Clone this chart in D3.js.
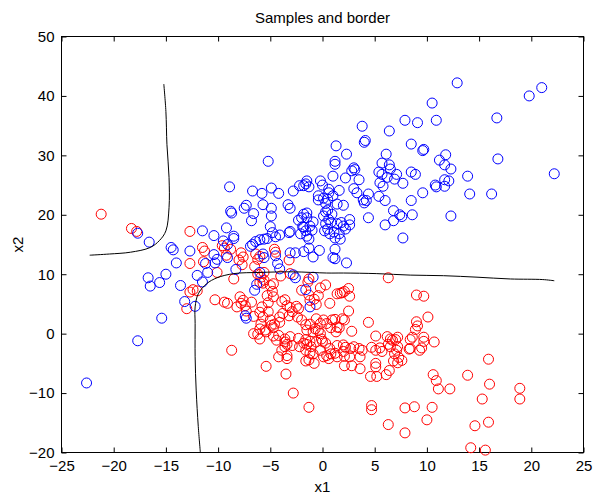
<!DOCTYPE html>
<html>
<head>
<meta charset="utf-8">
<script src="https://cdn.jsdelivr.net/npm/d3@7"></script>
<style>
  body { margin: 0; background: #fff; }
  svg { display: block; font-family: "Liberation Sans", Arial, Helvetica, sans-serif; }
</style>
</head>
<body>
<svg id="chart" width="598" height="496"></svg>
<script>
// samples of class 2 (blue) and class 1 (red)
const blueSamples = [
  [-22.6,-8.3],[-17.7,-1.2],[-15.4,2.6],[-16.7,9.4],[-16.5,8.0],[-15.6,8.6],[-15.0,10.0],[-14.0,11.9],[-13.6,8.1],
  [-13.2,5.4],[-12.2,4.6],[-12.0,9.8],[-11.2,11.8],[-11.0,10.3],[-11.5,8.7],
  [-16.6,15.4],[-17.7,16.9],[-14.5,14.5],[-14.3,14.1],[-12.7,13.9],[-11.5,17.3],[-10.4,16.5],
  [-10.4,13.3],[-10.1,12.5],[-10.3,11.9],[-9.5,15.6],[-9.1,15.0],
  [-5.2,29.0],[-8.9,24.7],[-6.7,24.0],[-5.8,23.6],[-4.9,24.5],[-4.2,23.6],[-2.8,24.0],[-2.2,24.9],
  [-7.3,21.6],[-7.5,21.1],[-8.8,20.6],[-8.7,20.3],[-5.7,21.7],[-4.9,21.1],[-3.3,21.7],[-3.1,21.1],
  [-6.6,20.2],[-4.9,19.8],[-6.8,19.0],[-5.0,18.0],[-9.2,17.8],[-8.5,16.4],[-8.5,16.0],
  [-2.0,19.5],[-2.3,19.1],[-1.9,18.0],[-3.1,17.2],[-4.8,17.0],[-4.5,16.3],[-4.1,16.6],[-3.2,17.0],
  [-5.3,16.0],[-6.0,15.8],[-6.4,15.5],[-6.7,15.0],[-6.9,14.7],[-5.6,15.9],
  [-3.1,13.6],[-2.6,13.6],[-9.1,12.8],[-5.7,13.4],[-5.6,12.8],[-4.5,13.1],[-4.3,11.8],[-8.3,10.8],
  [-4.1,10.9],[-2.8,9.9],[-2.6,9.4],[-6.3,8.3],[-6.5,7.3],[-6.0,10.3],[-7.4,3.0],[-7.3,2.6],
  [-1.5,25.7],[-0.2,25.7],[0.0,25.0],[-1.6,25.2],[-1.3,24.7],[-1.8,24.9],[1.0,26.5],[0.6,24.3],[1.6,24.1],
  [-0.4,23.2],[0.1,22.8],[0.6,23.7],[1.0,23.2],[0.5,22.6],[1.4,21.8],[0.3,21.9],[-0.4,22.5],
  [-1.8,20.1],[-1.5,20.3],[-1.5,19.5],[-0.9,18.8],[-1.2,18.1],[-1.0,17.4],[-1.8,17.9],[-1.6,17.3],[-2.1,16.8],
  [-1.5,16.4],[-1.3,15.9],
  [0.3,20.5],[0.1,19.8],[0.8,18.7],[0.9,20.1],[0.5,20.8],[0.6,19.2],[0.3,18.5],[1.4,18.5],[0.5,17.6],[0.2,17.3],
  [0.7,16.8],[1.1,17.1],[1.2,16.1],[1.6,16.8],
  [-1.3,14.4],[-0.3,14.0],[-0.9,12.9],[1.0,12.8],[-1.8,13.8],[1.2,14.2],[1.2,12.6],[2.3,11.9],
  [-0.9,9.5],[-1.6,7.4],[-1.2,4.5],
  [1.2,29.0],[1.2,28.5],[3.0,27.9],[3.1,27.6],[2.8,27.4],[5.7,28.7],[6.4,28.4],[6.5,27.7],[5.4,27.2],[5.7,26.8],
  [7.1,26.8],[6.2,26.3],[6.9,26.0],[7.7,25.3],[8.5,27.2],[8.9,26.8],
  [2.2,26.2],[3.5,25.9],[5.5,25.4],[5.8,24.8],[3.0,24.4],[3.3,23.7],[4.4,23.5],[4.2,22.4],[4.0,22.0],[3.9,22.5],
  [5.4,23.1],[6.0,22.4],[8.5,22.4],[2.0,21.6],
  [6.8,20.7],[7.4,20.0],[7.6,19.7],[8.6,20.0],[4.4,19.5],[6.0,18.3],[6.8,19.0],[2.6,19.2],[2.6,18.3],[1.8,18.7],
  [2.0,18.1],[2.2,17.6],[1.7,15.9],[7.7,16.1],[9.6,23.7],
  [12.9,42.2],[19.8,40.0],[21.0,41.4],[10.5,38.8],[16.7,36.3],[7.9,35.9],[9.1,35.5],[10.9,35.9],[3.8,34.9],
  [6.4,34.1],[4.0,32.2],[4.1,32.5],[8.5,31.9],[9.6,30.8],[9.7,31.0],[1.3,31.6],[2.3,30.2],[6.1,30.2],[16.8,29.4],
  [22.2,26.9],[11.8,30.1],[11.2,29.2],[11.7,28.4],[12.3,27.7],[13.9,26.5],[10.8,25.0],[10.9,24.7],[11.7,24.8],
  [11.7,25.9],[12.1,25.7],[14.1,23.5],[16.2,23.5],[12.3,19.8]
];

const redSamples = [
  [-21.2,20.1],[-18.3,17.7],[-17.8,17.2],[-12.7,17.2],[-11.5,14.5],[-11.3,13.9],[-12.7,11.8],[-11.4,12.1],[-10.1,10.3],
  [-12.7,7.0],[-12.4,7.4],[-12.0,7.2],[-13.0,4.2],[-10.3,5.7],[-9.4,5.3],[-9.1,5.1],[-8.7,-2.8],
  [-9.6,14.8],[-9.4,14.4],[-8.8,14.2],[-9.2,13.2],[-7.8,13.6],[-7.6,12.9],[-8.0,12.4],[-7.7,11.6],[-6.4,13.4],
  [-6.2,12.5],[-6.0,13.0],[-6.5,11.3],[-5.6,10.3],[-4.6,14.2],[-4.5,13.7],[-3.2,12.4],[-3.1,10.1],[-8.5,9.2],
  [-6.2,10.0],[-5.9,9.5],[-6.0,8.6],[-5.7,8.5],[-4.0,9.7],[-1.3,9.2],[0.3,8.2],[1.7,6.8],
  [-5.0,8.1],[-4.8,7.1],[-5.3,6.4],[-4.7,6.2],[-7.9,6.2],[-7.6,5.6],[-7.8,5.1],[-7.4,4.7],[-6.8,5.3],[-5.8,4.5],
  [-6.0,3.6],[-6.6,2.9],[-8.2,4.5],[-7.3,3.8],[-5.2,5.2],
  [-3.9,5.4],[-3.4,4.7],[-3.1,4.4],[-2.9,3.7],[-2.5,4.6],[-2.3,4.2],[-3.2,3.0],[-3.8,3.4],[-3.6,5.7],
  [-2.0,7.3],[-1.3,6.5],[-1.2,5.6],[-0.6,4.9],[-0.4,6.4],[-0.2,7.7],[0.7,5.1],[1.4,6.7],[-1.4,8.7],[-0.8,5.8],
  [-4.7,8.4],[-5.6,9.0],
  [-5.0,2.3],[-4.6,1.6],[-4.1,1.9],[-5.9,1.6],[-5.5,0.6],[-6.6,0.0],[-6.0,0.8],[-5.4,0.3],[-5.7,2.8],[-5.2,3.7],
  [-4.9,1.4],[-4.7,1.0],[-4.1,2.8],[-2.4,2.8],
  [-4.7,-0.4],[-4.2,-0.3],[-3.6,-0.9],[-3.1,-0.5],[-2.9,-2.0],[-3.6,-2.2],[-3.6,-1.4],[-3.4,-1.8],[-4.4,-1.1],
  [-6.2,-0.1],[-6.0,-0.9],
  [-2.0,2.3],[-1.6,1.5],[-1.5,0.6],[-1.2,1.6],[-0.7,0.8],[-0.4,0.5],[-0.2,1.7],[0.1,2.3],[0.4,1.7],[0.9,2.3],
  [1.4,1.1],[1.3,0.3],[-0.9,0.3],[-0.6,2.5],[-0.2,0.0],[0.0,-1.3],[1.6,1.0],[0.8,1.0],[1.2,2.4],
  [-2.3,-0.8],[-1.6,-1.0],[-1.5,-1.8],[-0.6,-1.4],[-0.1,-0.9],[0.3,-1.6],[-1.8,-1.6],[-1.2,-1.3],
  [-2.2,-2.2],[-1.6,-2.8],[-1.2,-3.3],[-0.2,-2.8],[0.7,-2.5],[0.1,-3.9],[1.4,-2.0],[1.2,-3.3],[-1.1,-2.2],
  [-3.4,-3.7],[-3.9,-2.8],[-4.2,-3.9],[-3.4,-4.2],[-5.4,-5.5],[-3.5,-6.8],[-2.8,-10.0],[-1.3,-12.4],
  [-0.9,-3.4],[-1.3,-4.4],[-0.8,-5.0],[0.4,-3.7],[0.6,-4.2],[0.8,-3.4],[-1.6,-4.6],[1.4,-3.9],
  [6.3,9.4],[9.0,6.5],[9.7,6.3],[2.1,7.1],[2.5,7.6],[2.6,6.3],[1.9,6.9],[2.5,3.8],[4.4,1.9],[9.0,2.0],[9.1,1.3],
  [8.9,0.7],[10.1,2.8],[2.8,0.4],[1.9,2.5],[2.1,2.3],
  [5.1,-0.4],[6.2,-0.5],[6.5,-0.9],[6.7,-1.1],[7.0,-1.0],[7.2,-0.6],[8.4,-1.0],[8.6,-0.6],
  [6.5,-2.2],[6.3,-1.8],[4.7,-2.3],[5.5,-2.4],[5.7,-3.0],[5.1,-2.8],
  [2.0,-1.9],[2.2,-2.3],[3.0,-2.2],[3.5,-2.5],[3.8,-2.8],[2.0,-3.0],[2.7,-2.5],
  [8.4,-2.5],[9.3,-2.8],[9.5,-2.4],[8.3,-2.6],[9.7,-0.6],[9.7,-1.3],[10.7,-1.4],
  [2.1,-3.8],[2.6,-3.9],[3.6,-3.9],
  [7.1,-2.8],[7.2,-2.2],[6.9,-3.4],[6.8,-4.6],[7.3,-4.0],[7.6,-4.5],[7.2,-4.9],
  [2.1,-5.4],[2.8,-5.4],[3.6,-5.9],[5.1,-5.0],[5.1,-5.6],[4.6,-7.2],[5.2,-7.2],[6.1,-6.9],[6.4,-6.2],
  [15.9,-4.3],[13.9,-7.0],[16.0,-8.5],[18.9,-9.2],[18.9,-11.0],[15.3,-11.0],[10.6,-6.9],[10.9,-7.9],[11.1,-9.3],
  [12.2,-9.3],[8.8,-12.3],[7.9,-12.5],[10.5,-12.4],[10.0,-14.5],[4.7,-12.1],[4.7,-12.8],[6.3,-15.3],[7.9,-16.7],
  [14.6,-15.5],[15.9,-14.9],[14.2,-19.2],[15.6,-19.6]
];

// decision border, two pieces
const borderUpper = [
  [-15.2,42.0],[-15.0,37.4],[-14.9,31.8],[-14.7,26.3],[-14.7,21.2],[-15.0,17.3],[-15.6,15.7],
  [-16.5,14.5],[-18.4,13.7],[-20.4,13.4],[-22.3,13.2]
];
const borderLower = [
  [-11.7,-20.0],[-11.9,-15.6],[-12.1,-9.5],[-12.2,-3.9],[-12.2,1.7],[-12.2,4.5],[-11.9,6.7],[-11.1,8.4],
  [-10.1,9.4],[-8.5,10.1],[-6.0,10.3],[-2.8,10.4],[0.4,10.2],[2.0,10.2],[5.2,10.1],[8.4,9.85],[11.6,9.75],
  [14.8,9.5],[18.0,9.2],[21.1,9.1],[22.2,8.9]
];

const xTicks = [-25, -20, -15, -10, -5, 0, 5, 10, 15, 20, 25];
const yTicks = [-20, -10, 0, 10, 20, 30, 40, 50];

const svg = d3.select('#chart');
const plotLeft = 61.5, plotRight = 583.5, plotTop = 36.5, plotBottom = 452.5;

const x = d3.scaleLinear().domain([-25, 25]).range([plotLeft, plotRight]);
const y = d3.scaleLinear().domain([-20, 50]).range([plotBottom, plotTop]);

const fontSize = 15;

// axes with inward ticks on all sides
svg.append('g')
  .attr('transform', `translate(0,${plotBottom})`)
  .call(d3.axisBottom(x).tickValues(xTicks).tickSizeInner(-5).tickSizeOuter(0).tickPadding(8).tickFormat(d3.format('d')));
svg.append('g')
  .attr('transform', `translate(0,${plotTop})`)
  .call(d3.axisTop(x).tickValues(xTicks).tickSizeInner(-5).tickSizeOuter(0).tickFormat(''));
svg.append('g')
  .attr('transform', `translate(${plotLeft},0)`)
  .call(d3.axisLeft(y).tickValues(yTicks).tickSizeInner(-5).tickSizeOuter(0).tickPadding(7).tickFormat(d3.format('d')));
svg.append('g')
  .attr('transform', `translate(${plotRight},0)`)
  .call(d3.axisRight(y).tickValues(yTicks).tickSizeInner(-5).tickSizeOuter(0).tickFormat(''));

svg.selectAll('.domain').remove();
svg.selectAll('.tick line').attr('stroke', '#000');
svg.selectAll('.tick text')
  .attr('fill', '#000')
  .style('font-size', fontSize + 'px')
  .style('font-family', '"Liberation Sans", Arial, sans-serif');

svg.append('rect')
  .attr('x', plotLeft).attr('y', plotTop)
  .attr('width', plotRight - plotLeft).attr('height', plotBottom - plotTop)
  .attr('fill', 'none').attr('stroke', '#000').attr('stroke-width', 1);

const plot = svg.append('g');

plot.selectAll('circle.red')
  .data(redSamples)
  .enter()
  .append('circle')
  .attr('class', 'red')
  .attr('cx', d => x(d[0]))
  .attr('cy', d => y(d[1]))
  .attr('r', 5)
  .attr('fill', 'none')
  .attr('stroke', '#ff0000')
  .attr('stroke-width', 1);

plot.selectAll('circle.blue')
  .data(blueSamples)
  .enter()
  .append('circle')
  .attr('class', 'blue')
  .attr('cx', d => x(d[0]))
  .attr('cy', d => y(d[1]))
  .attr('r', 5)
  .attr('fill', 'none')
  .attr('stroke', '#0000ff')
  .attr('stroke-width', 1);

const line = d3.line()
  .x(d => x(d[0]))
  .y(d => y(d[1]))
  .curve(d3.curveCatmullRom);

[borderUpper, borderLower].forEach(b => {
  plot.append('path')
    .attr('d', line(b))
    .attr('fill', 'none')
    .attr('stroke', '#000')
    .attr('stroke-width', 1);
});

svg.append('text')
  .attr('x', (plotLeft + plotRight) / 2).attr('y', 23)
  .attr('text-anchor', 'middle')
  .style('font-size', fontSize + 'px')
  .text('Samples and border');

svg.append('text')
  .attr('x', (plotLeft + plotRight) / 2).attr('y', 492)
  .attr('text-anchor', 'middle')
  .style('font-size', fontSize + 'px')
  .text('x1');

svg.append('text')
  .attr('transform', `translate(23,${(plotTop + plotBottom) / 2}) rotate(-90)`)
  .attr('text-anchor', 'middle')
  .style('font-size', fontSize + 'px')
  .text('x2');
</script>
</body>
</html>
